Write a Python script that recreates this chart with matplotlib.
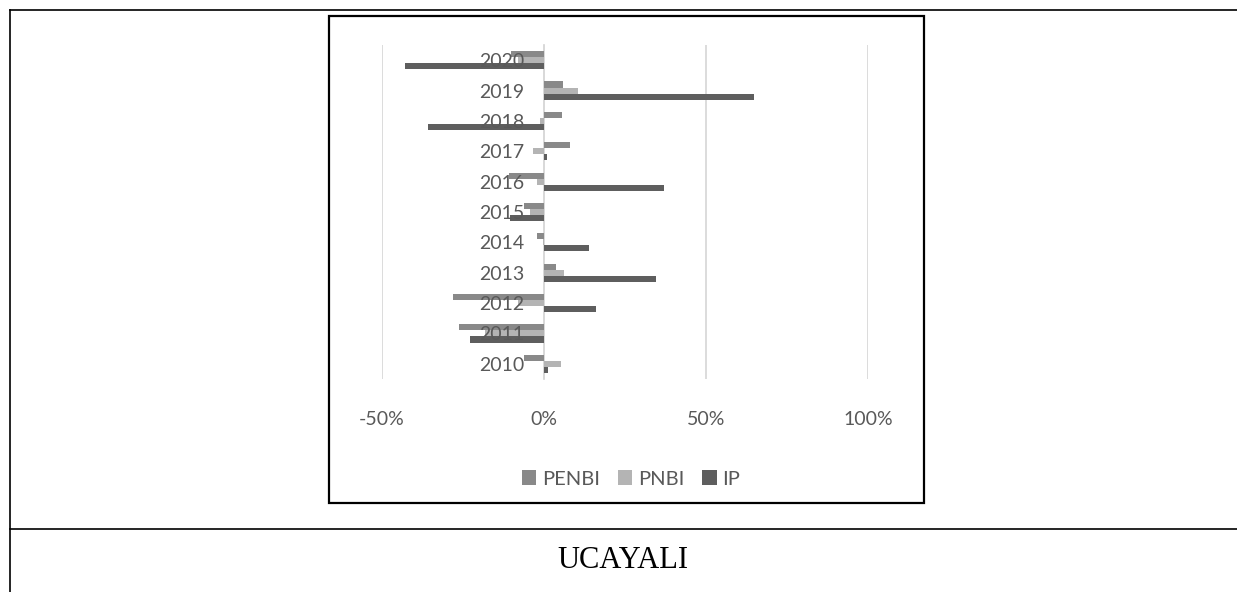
import matplotlib
matplotlib.use("Agg")
import matplotlib.pyplot as plt
from matplotlib.patches import Patch, Rectangle
from matplotlib.lines import Line2D
from matplotlib.ticker import PercentFormatter

years = [2010, 2011, 2012, 2013, 2014, 2015, 2016, 2017, 2018, 2019, 2020]
penbi = [-6.2, -26.1, -27.9, 3.9, -2.2, -6.1, -10.7, 8.1, 5.5, 5.9, -10.1]
pnbi = [5.2, -18.0, -8.0, 6.1, -0.4, -4.2, -2.0, -3.4, -1.2, 10.4, -8.0]
ip = [1.3, -22.7, 16.0, 34.6, 13.9, -10.4, 37.1, 0.9, -35.7, 64.9, -42.9]
series_names = ["PENBI", "PNBI", "IP"]
colors = ["#898989", "#b4b4b4", "#5e5e5e"]
xticks = [-50, 0, 50, 100]

plt.rcParams['font.family'] = ['Lato', 'DejaVu Sans']
plt.rcParams['axes.unicode_minus'] = False

W, H = 1237, 592
fig = plt.figure(figsize=(W / 100, H / 100), dpi=100)

def fx(px):
    return px / W

def fy(py):
    return 1 - py / H

# page/table lines
fig.add_artist(Line2D([fx(9.5), 1], [fy(10), fy(10)], color="black", lw=1.2, transform=fig.transFigure))
fig.add_artist(Line2D([fx(9.5), fx(9.5)], [fy(10), 0], color="black", lw=1.2, transform=fig.transFigure))
fig.add_artist(Line2D([fx(9.5), 1], [fy(529), fy(529)], color="black", lw=1.2, transform=fig.transFigure))
# chart frame
fig.add_artist(Rectangle((fx(329), fy(503)), fx(924) - fx(329), fy(16) - fy(503),
                         fill=False, edgecolor="black", lw=1.6, transform=fig.transFigure))

left, right, top, bottom = 381.7, 868.0, 45.0, 379.0
ax = fig.add_axes([fx(left), fy(bottom), fx(right) - fx(left), fy(top) - fy(bottom)])
ax.set_axisbelow(False)

y = list(range(len(years)))
h = 0.2
offsets = [h, 0, -h]
for vals, off, c, name in zip([penbi, pnbi, ip], offsets, colors, series_names):
    ax.barh([yy + off for yy in y], vals, height=h, color=c, label=name, zorder=1)

for xt in xticks:
    ax.axvline(xt, color="#d9d9d9", lw=1.3, zorder=0)

ax.set_xlim(-50, 100)
ax.set_ylim(-0.5, len(years) - 0.5)
ax.set_xticks(xticks)
ax.xaxis.set_major_formatter(PercentFormatter(decimals=0))
ax.set_yticks(y)
ax.set_yticklabels([str(v) for v in years])
ax.spines['left'].set_position(('data', 0))
ax.spines['left'].set_color("#d9d9d9")
ax.spines['left'].set_linewidth(1.3)
ax.spines['left'].set_zorder(0)
for s in ['top', 'right', 'bottom']:
    ax.spines[s].set_visible(False)
ax.tick_params(axis='y', length=0, pad=14, labelsize=14, labelcolor="#595959")
ax.tick_params(axis='x', length=0, pad=23, labelsize=14, labelcolor="#595959")
ax.patch.set_visible(False)

handles = [Patch(facecolor=c, edgecolor='none') for c in colors]
fig.legend(handles, series_names, loc="center", bbox_to_anchor=(fx(631), fy(479)), ncol=3,
           frameon=False, fontsize=14.5, labelcolor="#595959", handlelength=0.7, handleheight=0.7,
           handletextpad=0.3, columnspacing=0.9)

fig.text(fx(623), fy(561), "UCAYALI", ha="center", va="center", fontsize=22,
         family=["Liberation Serif", "DejaVu Serif"], color="black")

fig.savefig("out.png", dpi=100)
